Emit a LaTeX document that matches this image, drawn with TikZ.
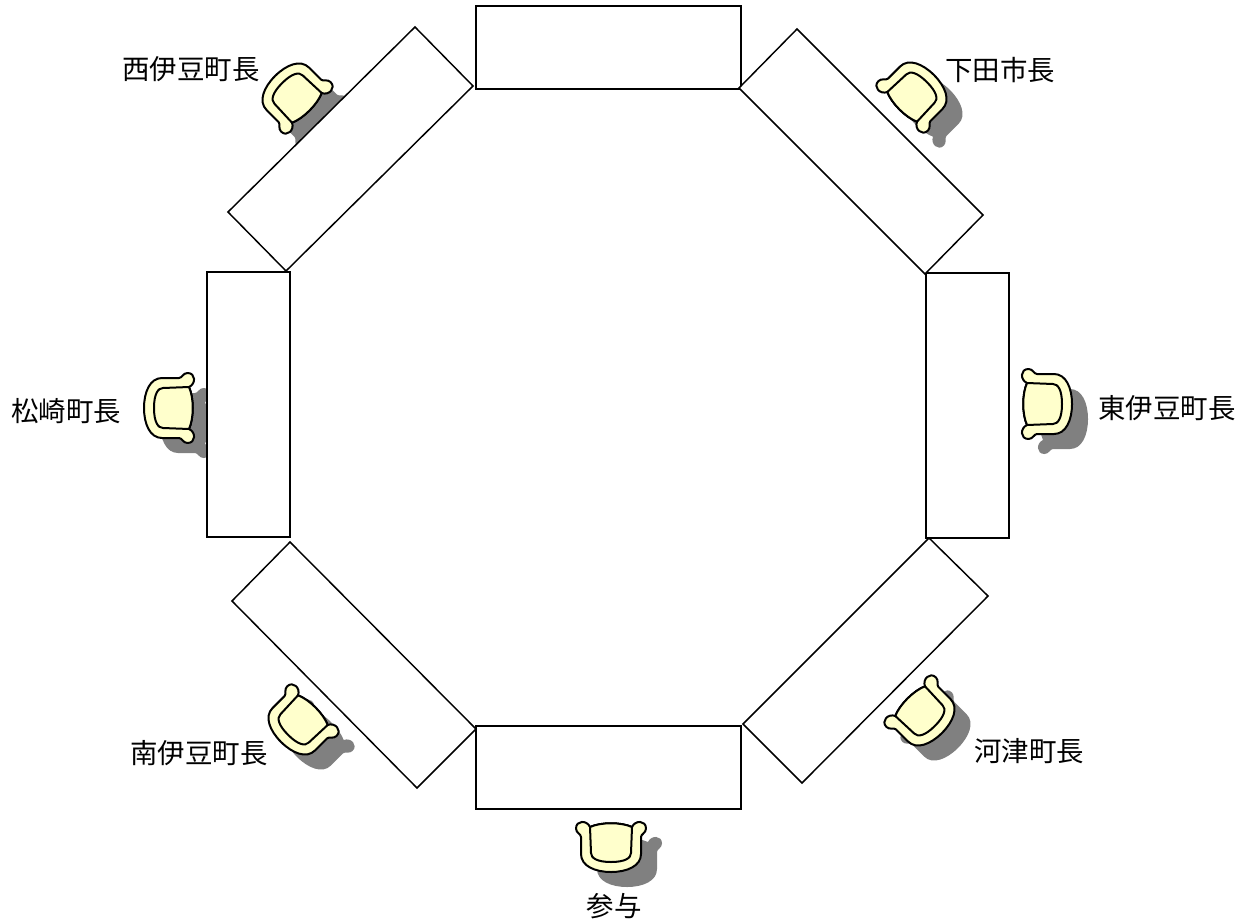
\documentclass[tikz,border=0pt]{standalone}
\usepackage{fontspec}
\setmainfont{Noto Sans CJK JP}
\definecolor{seatfill}{HTML}{FFFFCC}
\definecolor{shadowgray}{HTML}{808080}
\tikzset{
  tablebox/.style={draw=black,fill=white,line width=1.1pt,line join=miter},
  seatline/.style={draw=black,fill=seatfill,line width=1.5pt,line join=round},
  seatshadow/.style={fill=shadowgray,draw=none},
  namelabel/.style={font=\fontsize{20.6pt}{24pt}\selectfont,inner sep=0pt,text=black}
}
\newcommand{\chairoutline}{
  (-21,-21) .. controls (-10,-26) and (10,-26) .. (21,-21)
  .. controls (24,-28) and (35,-28) .. (35,-19.5)
  .. controls (35,-15) and (30,-14) .. (30,-11)
  -- (30,6) .. controls (30,18) and (16,24) .. (0,24)
  .. controls (-16,24) and (-30,18) .. (-30,6)
  -- (-30,-11) .. controls (-30,-14) and (-35,-15) .. (-35,-19.5)
  .. controls (-35,-28) and (-24,-28) .. (-21,-21) -- cycle
}
\newcommand{\seatshadowat}[3]{
  \begin{scope}[shift={(#1+16,#2+15)},rotate=#3]
    \fill[seatshadow] \chairoutline;
  \end{scope}
}
\newcommand{\seatat}[3]{
  \begin{scope}[shift={(#1,#2)},rotate=#3]
    \path[seatline] \chairoutline;
    \path[seatline] (-21,-21) -- (-20,5) .. controls (-20,10) and (-14,14) .. (0,14)
      .. controls (14,14) and (20,10) .. (20,5) -- (21,-21)
      .. controls (10,-26) and (-10,-26) .. (-21,-21) -- cycle;
  \end{scope}
}
\begin{document}
\begin{tikzpicture}[x=0.75pt,y=-0.75pt]
\useasboundingbox[fill=white] (0,0) rectangle (1248,920);
% shadows lie beneath the tables
\seatshadowat{292}{93}{-135}
\seatshadowat{917}{92}{135}
\seatshadowat{1048}{404}{90}
\seatshadowat{168}{408}{-90}
\seatshadowat{298}{725}{-45}
\seatshadowat{925}{716}{45}
\seatshadowat{611}{848}{0}
% tables
\path[tablebox] (476,6) rectangle (741,89);
\path[tablebox] (926,273) rectangle (1009,538);
\path[tablebox] (476,726) rectangle (741,809);
\path[tablebox] (207,272) rectangle (290,537);
\path[tablebox] (739,88) -- (797,29) -- (983,215) -- (925,274) -- cycle;
\path[tablebox] (473,86) -- (415,27) -- (228,212) -- (286,271) -- cycle;
\path[tablebox] (290,542) -- (232,601) -- (417,788) -- (476,729) -- cycle;
\path[tablebox] (929,538) -- (988,596) -- (802,783) -- (743,724) -- cycle;
% chairs
\seatat{292}{93}{-135}
\seatat{917}{92}{135}
\seatat{1048}{404}{90}
\seatat{168}{408}{-90}
\seatat{298}{725}{-45}
\seatat{925}{716}{45}
\seatat{611}{848}{0}
% labels
\node[namelabel] (nishiizu) at (191,69) {西伊豆町長};
\node[namelabel] (shimoda) at (1000,70) {下田市長};
\node[namelabel] (higashiizu) at (1167,408) {東伊豆町長};
\node[namelabel] (matsuzaki) at (66,411) {松崎町長};
\node[namelabel] (minamiizu) at (199,753) {南伊豆町長};
\node[namelabel] (kawazu) at (1029,751) {河津町長};
\node[namelabel] (sanyo) at (614,906) {参与};
\end{tikzpicture}
\end{document}
